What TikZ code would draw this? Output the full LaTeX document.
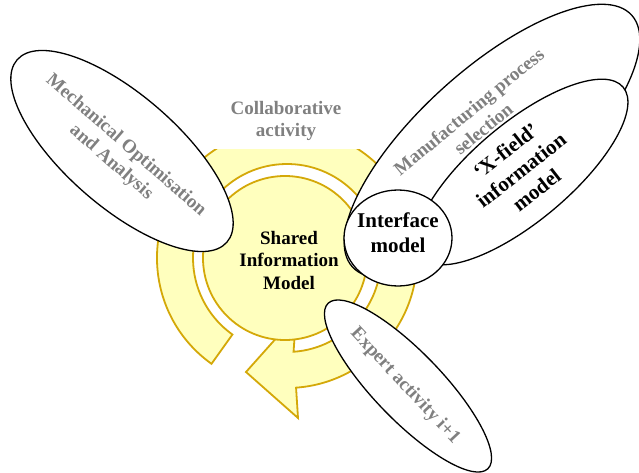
\documentclass[tikz,border=0pt]{standalone}
\usepackage{fontspec}
\setmainfont{Liberation Serif}
\usetikzlibrary{shapes.geometric}
\definecolor{ylw}{RGB}{255,255,190}
\definecolor{gld}{RGB}{212,168,8}
\definecolor{txtgray}{RGB}{128,128,128}
\tikzset{
  ringshape/.style={fill=ylw, draw=gld, line width=1.8pt, line join=miter},
  bubble/.style={ellipse, draw=black, line width=1.3pt, fill=white, inner sep=0pt},
  graytxt/.style={text=txtgray, font=\bfseries\fontsize{19}{22.5}\selectfont, align=center, inner sep=0pt},
  blacktxt/.style={text=black, font=\bfseries\fontsize{19}{22.5}\selectfont, align=center, inner sep=0pt},
  bigtxt/.style={text=black, font=\bfseries\fontsize{21}{25}\selectfont, align=center, inner sep=0pt}
}
\begin{document}
\begin{tikzpicture}[x=1pt,y=1pt]
\fill[white] (0,0) rectangle (639,-473);
\useasboundingbox (0,0) rectangle (639,-473);
\coordinate (C) at (287,-258);
% circular arrow (collaborative cycle)
\draw[ringshape] (211.5,-363.8) arc[start angle=234.5, end angle=-86, radius=130pt]
  -- (298,-418) -- (246,-372) -- (296,-316) -- (293.56,-351.77)
  arc[start angle=-86, end angle=234.5, radius=94pt] -- cycle;
% shared information model
\node[circle, fill=ylw, draw=gld, line width=1.8pt, minimum size=164pt, inner sep=0pt] (sim) at (285,-258) {};
\node[blacktxt] (simtext) at (289,-260) {Shared\\Information\\Model};
% collaborative activity label with white backing
\node[fill=white, minimum width=170pt, minimum height=60pt, anchor=south, inner sep=0pt] (collabbox) at (287,-149) {};
\node[graytxt] (collab) at (286,-121) {Collaborative\\activity};
% mechanical optimisation
\node[bubble, minimum width=278pt, minimum height=112pt, rotate=-41] (mech) at (122,-151) {};
\node[graytxt, rotate=-41] (mechtext) at (118.5,-154) {Mechanical Optimisation\\and Analysis};
% expert activity
\node[bubble, minimum width=230pt, minimum height=68pt, rotate=-46] (expert) at (408,-386) {};
\node[graytxt, rotate=-47] (experttext) at (405,-386) {Expert activity i+1};
% manufacturing process selection
\node[bubble, minimum width=376pt, minimum height=144pt, rotate=42] (manu) at (492,-141) {};
\node[graytxt, rotate=39.5] (manutext) at (476,-120) {Manufacturing process\\selection};
% X-field information model
\node[bubble, minimum width=264pt, minimum height=98pt, rotate=40] (xfield) at (522,-172) {};
\node[bigtxt, rotate=38] (xfieldtext) at (521,-170) {‘X-field’\\information\\model};
% interface model
\node[bubble, minimum width=108pt, minimum height=96pt] (iface) at (398,-238) {};
\node[bigtxt] (ifacetext) at (398,-233) {Interface\\model};
\end{tikzpicture}
\end{document}
